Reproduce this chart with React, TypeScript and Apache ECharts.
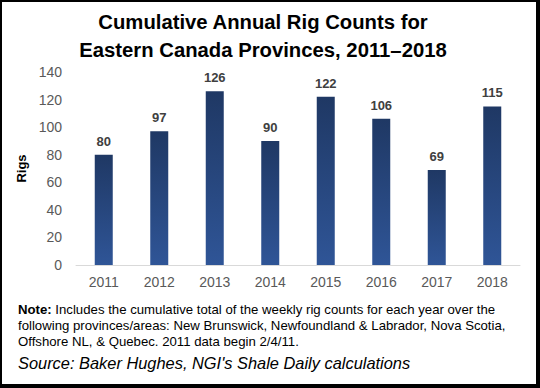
import React, { useEffect, useRef } from "react";
import * as echarts from "echarts";

const categories = ["2011", "2012", "2013", "2014", "2015", "2016", "2017", "2018"];
const rigCounts = [80, 97, 126, 90, 122, 106, 69, 115];
const yTicks = { min: 0, max: 140, interval: 20 };
const titleLines = ["Cumulative Annual Rig Counts for", "Eastern Canada Provinces, 2011\u20132018"];
const noteLines = [
  "Includes the cumulative total of the weekly rig counts for each year over the",
  "following provinces/areas: New Brunswick, Newfoundland & Labrador, Nova Scotia,",
  "Offshore NL, & Quebec. 2011 data begin 2/4/11.",
];
const sourceText = "Source: Baker Hughes, NGI's Shale Daily calculations";

const FONT = "'Liberation Sans', Arial, sans-serif";

export default function App() {
  const ref = useRef<HTMLDivElement>(null);
  useEffect(() => {
    if (!ref.current) return;
    const chart = echarts.init(ref.current, null, { renderer: "svg" });
    chart.setOption({
      animation: false,
      backgroundColor: "#ffffff",
      textStyle: { fontFamily: FONT },
      title: {
        text: titleLines.join("\n"),
        left: 258,
        top: 3,
        textAlign: "center",
        textStyle: { fontSize: 20.3, fontWeight: "bold", color: "#000", lineHeight: 28, fontFamily: FONT },
      },
      grid: { left: 76, right: 20, top: 72, bottom: 123, containLabel: false },
      xAxis: {
        type: "category",
        data: categories,
        axisLine: { show: true, lineStyle: { color: "#d9d9d9", width: 1 } },
        axisTick: { show: false },
        axisLabel: { color: "#595959", fontSize: 14, margin: 10, fontFamily: FONT },
      },
      yAxis: {
        type: "value",
        min: yTicks.min,
        max: yTicks.max,
        interval: yTicks.interval,
        name: "Rigs",
        nameLocation: "middle",
        nameGap: 42,
        nameRotate: 90,
        nameTextStyle: { fontSize: 13, fontWeight: "bold", color: "#000", fontFamily: FONT },
        axisLine: { show: false },
        axisTick: { show: false },
        splitLine: { show: false },
        axisLabel: { color: "#595959", fontSize: 14, margin: 14, fontFamily: FONT },
      },
      series: [
        {
          type: "bar",
          data: rigCounts,
          barWidth: 18,
          itemStyle: {
            color: new echarts.graphic.LinearGradient(0, 0, 0, 1, [
              { offset: 0, color: "#1f3864" },
              { offset: 1, color: "#2f5597" },
            ]),
          },
          label: {
            show: true,
            position: "top",
            distance: 7,
            fontSize: 13,
            fontWeight: "bold",
            color: "#404040",
            fontFamily: FONT,
          },
        },
      ],
      graphic: [
        { type: "rect", shape: { x: 0, y: 0, width: 540, height: 2 }, style: { fill: "#000" } },
        { type: "rect", shape: { x: 0, y: 0, width: 2, height: 388 }, style: { fill: "#000" } },
        { type: "rect", shape: { x: 536, y: 0, width: 4, height: 388 }, style: { fill: "#000" } },
        { type: "rect", shape: { x: 0, y: 384, width: 540, height: 4 }, style: { fill: "#000" } },
        {
          type: "text",
          left: 18,
          top: 301,
          style: {
            text: "{b|Note:} " + noteLines[0] + "\n" + noteLines[1] + "\n" + noteLines[2],
            font: `13.2px ${FONT}`,
            fill: "#000",
            lineHeight: 16,
            rich: {
              b: { fontWeight: "bold", fontSize: 13.2, fontFamily: FONT, fill: "#000" },
            },
          },
        },
        {
          type: "text",
          left: 18,
          top: 355,
          style: {
            text: sourceText,
            font: `italic 16.4px ${FONT}`,
            fill: "#000",
          },
        },
      ],
    });
    return () => chart.dispose();
  }, []);
  return (
    <div
      ref={ref}
      style={{ position: "fixed", left: 0, top: 0, width: 540, height: 388 }}
    />
  );
}
